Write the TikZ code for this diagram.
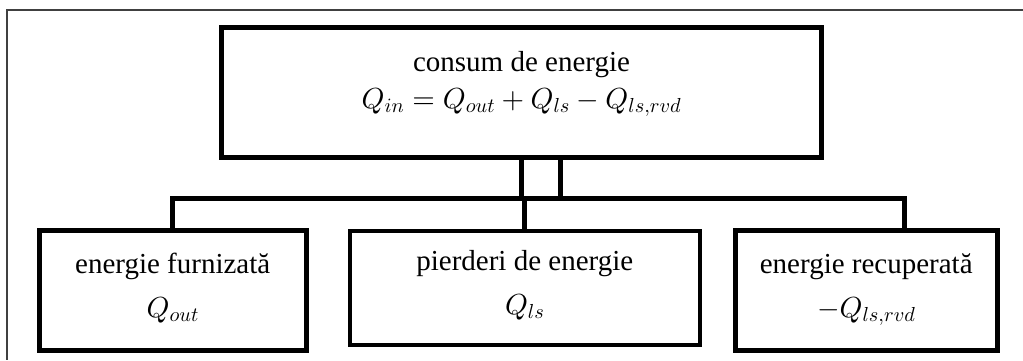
\documentclass[tikz,border=0pt]{standalone}
\usepackage{fontspec}
\setmainfont{Liberation Serif}
\usetikzlibrary{calc}
\DeclareFontShape{OML}{cmm}{m}{it}{<->cmmi10}{}
\DeclareFontShape{OMS}{cmsy}{m}{n}{<->cmsy10}{}
\DeclareFontShape{OT1}{cmr}{m}{n}{<->cmr10}{}
\DeclareMathSizes{29}{29}{20.3}{14.5}

\begin{document}
\begin{tikzpicture}[
        x=1pt, y=-1pt,
        box/.style={rectangle, draw, line width=5pt, align=center, inner sep=0pt},
        toptext/.style={font=\fontsize{29}{37}\selectfont, text height=60pt, text depth=27.5pt},
        subtext/.style={font=\fontsize{29}{44}\selectfont, text height=70pt, text depth=16.5pt},
        link/.style={draw, line width=5pt}
    ]
        \useasboundingbox (0,0) rectangle (1023,360);
        \draw[line width=1.6pt, black!75] (1023,10) -- (7,10) -- (7,360);

        \node[box, toptext, minimum width=600pt, minimum height=130.5pt] (consum) at (521.5,92.25) {consum de energie \\ $Q_{in}=Q_{out}+Q_{ls}-Q_{ls,rvd}$};

        \node[box, subtext, minimum width=267.5pt, minimum height=119.5pt] (furn) at (172.75,290.25) {energie furnizată \\ $Q_{out}$};
        \node[box, subtext, line width=4pt, minimum width=349.5pt, minimum height=114pt] (pierd) at (524.75,287.5) {pierderi de energie \\ $Q_{ls}$};
        \node[box, subtext, minimum width=261.5pt, minimum height=119.5pt] (recup) at (866.25,290.25) {energie recuperată \\ $-Q_{ls,rvd}$};

        \coordinate (bus) at (0,198.5);
        \draw[link] (furn.north) -- (furn.north |- bus) -- ([xshift=37.75pt]recup.north |- bus) -- ([xshift=37.75pt]recup.north);
        \draw[link] (pierd.north) -- (pierd.north |- bus);
        \draw[link] (consum.south) -- (consum.south |- bus);
        \draw[link] ([xshift=38.5pt]consum.south) -- ([xshift=38.5pt]consum.south |- bus);
    \end{tikzpicture}
\end{document}
